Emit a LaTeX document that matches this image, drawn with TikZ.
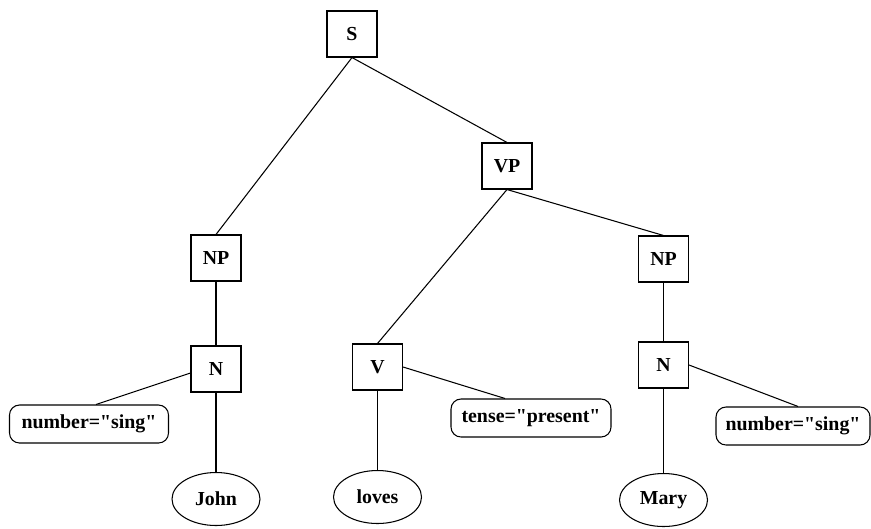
\documentclass[tikz,border=0pt]{standalone}
\usepackage{fontspec}
\setmainfont{Liberation Serif}
\usepackage{tikz}
\usetikzlibrary{shapes.geometric}

\begin{document}
\begin{tikzpicture}[
    every node/.style={font=\fontsize{11.3}{13}\selectfont\bfseries},
    cat/.style={draw, line width=0.6pt, minimum width=1.0cm, minimum height=0.92cm, inner sep=0pt},
    feat/.style={draw, line width=0.6pt, rounded corners=0.2cm, minimum height=0.76cm, inner sep=2pt},
    word/.style={draw, ellipse, line width=0.6pt, minimum width=1.76cm, minimum height=1.06cm, inner sep=0pt},
    link/.style={line width=0.6pt}]
  \useasboundingbox (0,0) rectangle (17.42,-10.56);

  % Category boxes
  \node[cat] (s)   at (7.04,-0.68)  {S};
  \node[cat] (vp)  at (10.14,-3.32) {VP};
  \node[cat] (npl) at (4.32,-5.16)  {NP};
  \node[cat] (npr) at (13.27,-5.18) {NP};
  \node[cat] (nl)  at (4.32,-7.38)  {N};
  \node[cat] (v)   at (7.55,-7.34)  {V};
  \node[cat] (nr)  at (13.27,-7.30) {N};

  % Feature boxes
  \node[feat, minimum width=3.18cm] (numl)  at (1.78,-8.48)
    {number=\textquotedbl sing\textquotedbl};
  \node[feat, minimum width=3.2cm]  (tense) at (10.62,-8.36)
    {tense=\textquotedbl present\textquotedbl};
  \node[feat, minimum width=3.08cm] (numr)  at (15.86,-8.52)
    {number=\textquotedbl sing\textquotedbl};

  % Words
  \node[word] (john)  at (4.32,-9.98)  {John};
  \node[word] (loves) at (7.55,-9.94)  {loves};
  \node[word] (mary)  at (13.27,-10.0) {Mary};

  % Tree edges
  \draw[link] (s.south) -- (npl.north);
  \draw[link] (s.south) -- (vp.north);
  \draw[link] (vp.south) -- (v.north);
  \draw[link] (vp.south) -- (npr.north);
  \draw[link] (npl) -- (nl);
  \draw[link] (npr) -- (nr);
  \draw[link] (nl) -- (john);
  \draw[link] (v) -- (loves);
  \draw[link] (nr) -- (mary);

  % Feature edges
  \draw[link] ([yshift=-0.08cm]nl.west) -- ([xshift=0.14cm]numl.north);
  \draw[link] (v.east) -- ([xshift=-0.52cm]tense.north);
  \draw[link] (nr.east) -- ([xshift=0.1cm]numr.north);
\end{tikzpicture}
\end{document}
